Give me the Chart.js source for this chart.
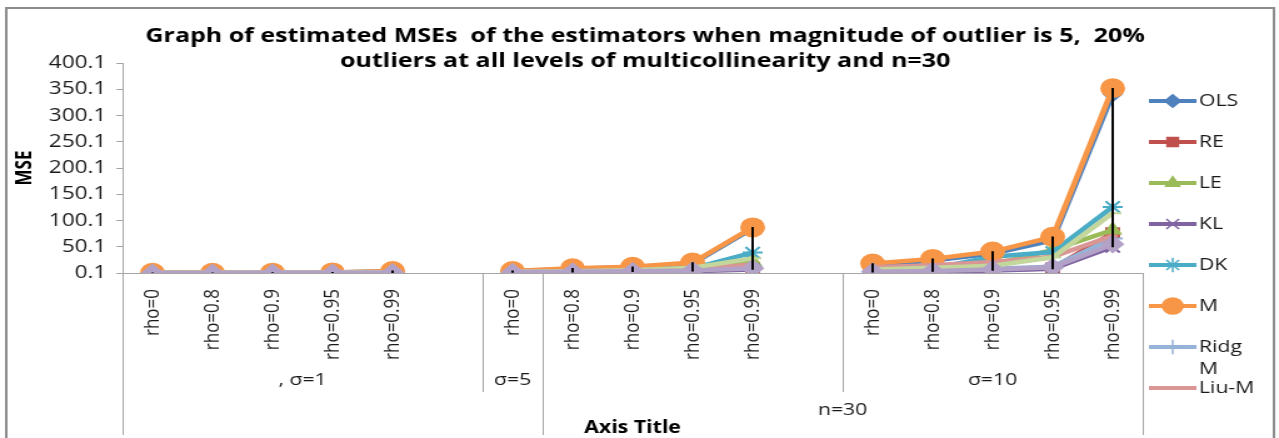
<!DOCTYPE html>
<html>
<head>
<meta charset="utf-8">
<script src="https://cdn.jsdelivr.net/npm/chart.js@4/dist/chart.umd.min.js"></script>
<style>
  html, body { margin: 0; padding: 0; background: #fff; overflow: hidden; }
  /* the original picture is a chart stretched sideways, so draw narrow and widen */
  #wrap { width: 1023px; height: 438px; transform: scaleX(1.2502); transform-origin: 0 0; }
</style>
</head>
<body>
<div id="wrap"><canvas id="chart" width="1023" height="438"></canvas></div>
<script>
// categories (level 1), blanks separate the groups
const categories = ['rho=0', 'rho=0.8', 'rho=0.9', 'rho=0.95', 'rho=0.99', '',
  'rho=0', 'rho=0.8', 'rho=0.9', 'rho=0.95', 'rho=0.99', '',
  'rho=0', 'rho=0.8', 'rho=0.9', 'rho=0.95', 'rho=0.99'];
const level2Labels = [', σ=1', 'σ=5', '', 'σ=10'];
const level2Spans = [6, 1, 5, 5];
const level3Labels = ['', 'n=30'];
const level3Spans = [7, 10];
const yTicks = [0.1, 50.1, 100.1, 150.1, 200.1, 250.1, 300.1, 350.1, 400.1];
const titleLines = ['Graph of estimated MSEs  of the estimators when magnitude of outlier is 5,  20%',
  'outliers at all levels of multicollinearity and n=30'];

// series values
const OLS   = [0.3, 0.5, 0.6, 1.0, 3.5, null, 3, 8, 11, 18, 85, null, 15, 24, 37, 62, 341];
const RE    = [0.2, 0.3, 0.4, 0.5, 1.0, null, 1, 2, 3, 4, 10, null, 2, 4, 6, 9, 76];
const LE    = [0.3, 0.4, 0.5, 0.7, 1.5, null, 2, 3, 5, 8, 22, null, 6, 10, 16, 44, 82];
const KL    = [0.2, 0.3, 0.3, 0.4, 0.8, null, 1, 1.5, 2.5, 3.5, 7, null, 1.5, 3, 5, 8, 50];
const DK    = [0.3, 0.4, 0.5, 0.7, 1.8, null, 2, 3.5, 5, 9, 39, null, 5, 9, 31, 40, 126];
const M     = [0.4, 0.6, 0.8, 1.2, 4.0, null, 4, 9, 12, 20, 87, null, 18, 27, 41, 69, 352];
const RidgM = [0.2, 0.3, 0.4, 0.5, 1.0, null, 1.5, 2.5, 3.5, 5, 12, null, 3, 5, 8, 12, 66];
const LiuM  = [0.3, 0.4, 0.5, 0.7, 1.4, null, 2.5, 4, 6, 9, 16, null, 11, 15, 21, 31, 71];
// two more series whose legend entries fall outside the picture
const KLM   = [0.3, 0.4, 0.5, 0.7, 1.6, null, 2, 3.5, 5.5, 10, 28, null, 7, 10, 14, 30, 114];
const DKM   = [0.2, 0.3, 0.4, 0.5, 1.0, null, 1.5, 2.5, 3.5, 5, 9, null, 2.5, 4, 7, 11, 55];

const series = [
  { label: 'OLS', data: OLS, color: '#4F81BD', style: 'rectRot', r: 7 },
  { label: 'RE', data: RE, color: '#C0504D', style: 'rect', r: 7 },
  { label: 'LE', data: LE, color: '#9BBB59', style: 'triangle', r: 7 },
  { label: 'KL', data: KL, color: '#8064A2', style: 'crossRot', r: 8 },
  { label: 'DK', data: DK, color: '#4BACC6', style: 'star', r: 8 },
  { label: 'M', data: M, color: '#F79646', style: 'circle', r: 9 },
  { label: 'Ridg M', data: RidgM, color: '#95B3D7', style: 'cross', r: 8 },
  { label: 'Liu-M', data: LiuM, color: '#D99694', style: 'dash', r: 4 },
  { label: 'KL-M', data: KLM, color: '#C3D69B', style: 'dash', r: 7, hidden: true },
  { label: 'DK-M', data: DKM, color: '#B3A2C7', style: 'rectRot', r: 8, hidden: true }
];

// high-low lines: lowest to highest value in each category
const hiLo = categories.map((c, i) => {
  const v = series.map(s => s.data[i]).filter(x => x != null);
  return v.length ? [Math.min(...v), Math.max(...v)] : null;
});

const FONT = "'Open Sans', 'DejaVu Sans', sans-serif";
Chart.defaults.font.family = FONT;
Chart.defaults.color = '#1a1a1a';

const datasets = series.map((s, i) => ({
  type: 'line',
  label: s.label,
  data: s.data,
  borderColor: s.color,
  backgroundColor: s.color,
  borderWidth: 4.5,
  pointStyle: s.style,
  pointRadius: s.r,
  pointBorderWidth: 2,
  pointBorderColor: s.color,
  pointBackgroundColor: s.color,
  spanGaps: false,
  order: series.length - i,
  inLegend: !s.hidden
}));
datasets.push({
  type: 'bar',
  label: 'hilo',
  data: hiLo,
  backgroundColor: '#000',
  borderWidth: 0,
  barThickness: 1.3,
  order: -1,
  inLegend: false
});

const extras = {
  id: 'extras',
  beforeDraw(chart) {
    const ctx = chart.ctx;
    ctx.save();
    ctx.fillStyle = '#fff';
    ctx.fillRect(0, 0, chart.width, chart.height);
    ctx.strokeStyle = '#8c8c8c';
    ctx.lineWidth = 2;
    ctx.strokeRect(5, 8, chart.width - 9, chart.height + 10);
    ctx.restore();
  },
  afterDraw(chart) {
    const ctx = chart.ctx;
    const xs = chart.scales.x;
    const half = (xs.getPixelForValue(1) - xs.getPixelForValue(0)) / 2;
    const edge = i => xs.getPixelForValue(i) - half;
    ctx.save();
    // main title
    ctx.fillStyle = '#000';
    ctx.font = 'bold 20px ' + FONT;
    ctx.textAlign = 'center';
    ctx.textBaseline = 'middle';
    titleLines.forEach((t, k) => ctx.fillText(t, 516, 36 + k * 25));

    // multi-level category axis
    const top = xs.top;
    const l2Bottom = 392, l3Bottom = 435;
    ctx.strokeStyle = '#a6a6a6';
    ctx.lineWidth = 1;
    const vline = (x, y2) => {
      ctx.beginPath();
      ctx.moveTo(Math.round(x) + 0.5, top);
      ctx.lineTo(Math.round(x) + 0.5, y2);
      ctx.stroke();
    };
    ctx.font = '17px ' + FONT;
    ctx.fillStyle = '#1a1a1a';
    const l3Edges = [0];
    level3Spans.forEach(n => l3Edges.push(l3Edges[l3Edges.length - 1] + n));
    let start = 0;
    level2Spans.forEach((n, k) => {
      if (start > 0 && !l3Edges.includes(start)) vline(edge(start), l2Bottom);
      const cx = (edge(start) + edge(start + n)) / 2;
      if (level2Labels[k]) ctx.fillText(level2Labels[k], cx, 380);
      start += n;
    });
    start = 0;
    level3Spans.forEach((n, k) => {
      vline(edge(start), l3Bottom);
      const cx = (edge(start) + edge(start + n)) / 2;
      if (level3Labels[k]) ctx.fillText(level3Labels[k], cx, 410);
      start += n;
    });
    vline(edge(start), l3Bottom);

    // legend
    const items = chart.data.datasets.filter(d => d.inLegend);
    const lx = 919, ly = 101, step = 41;
    items.forEach((d, k) => {
      const y = ly + k * step;
      ctx.strokeStyle = d.borderColor;
      ctx.fillStyle = d.borderColor;
      ctx.lineWidth = 4;
      ctx.beginPath();
      ctx.moveTo(lx, y);
      ctx.lineTo(lx + 38, y);
      ctx.stroke();
      ctx.lineWidth = 1.5;
      Chart.helpers.drawPoint(ctx, {
        pointStyle: d.pointStyle, radius: d.pointRadius * 0.9, borderWidth: 1.5
      }, lx + 19, y);
      ctx.fillStyle = '#1a1a1a';
      ctx.textAlign = 'left';
      ctx.font = '17px ' + FONT;
      const words = d.label.split(' ');
      if (words.length > 1 && ctx.measureText(d.label).width > 48) {
        words.forEach((w, j) => ctx.fillText(w, lx + 40, y + j * 22));
      } else {
        ctx.fillText(d.label, lx + 40, y);
      }
    });
    ctx.restore();
  }
};

new Chart(document.getElementById('chart'), {
  type: 'line',
  data: { labels: categories, datasets: datasets },
  options: {
    responsive: false,
    animation: false,
    layout: { padding: { left: 10, right: 109, top: 63, bottom: 0 } },
    plugins: {
      legend: { display: false },
      tooltip: { enabled: false },
      title: { display: false }
    },
    scales: {
      x: {
        offset: true,
        grid: { display: false },
        border: { display: true, color: '#a6a6a6', width: 1 },
        ticks: { autoSkip: false, maxRotation: 90, minRotation: 90, padding: 8,
                 font: { size: 17 }, color: '#1a1a1a' },
        title: { display: true, text: 'Axis Title', font: { size: 17, weight: 'bold' },
                 color: '#000', padding: { top: 2, bottom: 0 } },
        afterFit(s) { s.height = 165; }
      },
      y: {
        min: 0.1,
        max: 400.1,
        afterBuildTicks(s) { s.ticks = yTicks.map(v => ({ value: v })); },
        grid: { display: true, drawOnChartArea: false, tickLength: 5, color: '#a6a6a6' },
        border: { display: true, color: '#a6a6a6', width: 1 },
        ticks: { callback: v => v.toFixed(1), font: { size: 18 }, color: '#1a1a1a', padding: 8 },
        title: { display: true, text: 'MSE', font: { size: 17, weight: 'bold' }, color: '#000',
                 padding: { top: 0, bottom: 4 } },
        afterFit(s) { s.width = 88; }
      }
    }
  },
  plugins: [extras]
});
</script>
</body>
</html>
